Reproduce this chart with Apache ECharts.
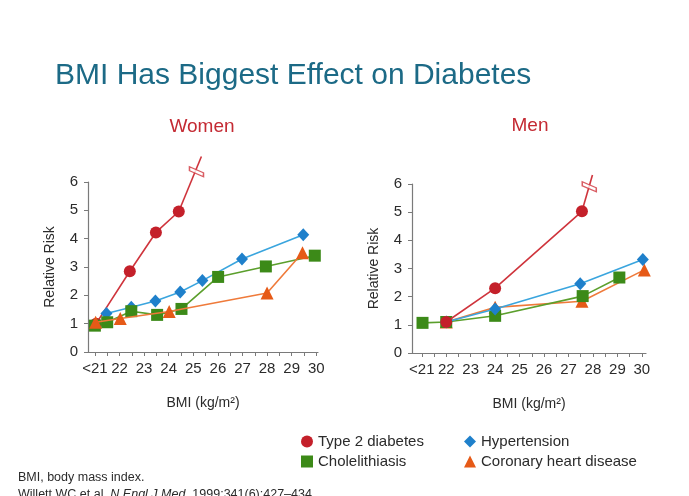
<!DOCTYPE html>
<html>
<head>
<meta charset="utf-8">
<script src="https://cdn.jsdelivr.net/npm/echarts@6/dist/echarts.min.js"></script>
<style>
  html, body { margin: 0; padding: 0; background: #ffffff; }
  #chart { width: 689px; height: 496px; }
</style>
</head>
<body>
<div id="chart"></div>
<script>
// BMI axis: ticks every half unit, labels on whole units
const bmiTicks = [21, 21.5, 22, 22.5, 23, 23.5, 24, 24.5, 25, 25.5, 26, 26.5, 27, 27.5, 28, 28.5, 29, 29.5, 30];
const bmiLabels = [21, 22, 23, 24, 25, 26, 27, 28, 29, 30];
const riskTicks = [0, 1, 2, 3, 4, 5, 6];

// Women: [BMI, relative risk]
const womenDiabetes = [[21.05, 1.0], [22.42, 2.85], [23.48, 4.22], [24.41, 4.96]];
const womenDiabetesRun = [[24.41, 4.96], [25.33, 6.9]];
const womenDiabetesBreak = [[25.13, 6.36]];
const womenHypertension = [[21.47, 1.36], [22.48, 1.58], [23.46, 1.8], [24.47, 2.12], [25.37, 2.52], [26.98, 3.28], [29.47, 4.14]];
const womenCholelithiasis = [[21.0, 0.93], [21.5, 1.05], [22.48, 1.44], [23.53, 1.31], [24.52, 1.52], [26.01, 2.65], [27.95, 3.02], [29.94, 3.4]];
const womenCHD = [[21.03, 1.05], [22.03, 1.18], [24.02, 1.43], [28.0, 2.08], [29.44, 3.5]];

// Men: [BMI, relative risk]
const menDiabetes = [[22.0, 1.1], [24.0, 2.3], [27.55, 5.03]];
const menDiabetesRun = [[27.55, 5.03], [27.98, 6.32]];
const menDiabetesBreak = [[27.85, 5.9]];
const menHypertension = [[22.0, 1.1], [24.0, 1.56], [27.48, 2.46], [30.04, 3.32]];
const menCholelithiasis = [[21.03, 1.07], [22.0, 1.1], [24.0, 1.32], [27.58, 2.02], [29.08, 2.68]];
const menCHD = [[22.0, 1.1], [24.0, 1.62], [27.55, 1.84], [30.1, 2.95]];

const names = ['Type 2 diabetes', 'Hypertension', 'Cholelithiasis', 'Coronary heart disease'];

const RED = '#c4202a', RED_LINE = '#cf343c';
const BLUE = '#1f80cb', BLUE_LINE = '#3aa5de';
const GREEN = '#3c8a18', GREEN_LINE = '#5b9f2c';
const ORANGE = '#e65a17', ORANGE_LINE = '#ef7a3a';
const FONT = '"Liberation Sans", Arial, Helvetica, sans-serif';
const AXIS = '#7a7a7a';
const TEXT = '#2b2b2b';

// double-slash scale break drawn across the diabetes line
const breakPath = 'path://M0,0 L14,6 L14,10 L0,4 Z';

function xAxisFor(gridIndex, min, max) {
  return {
    type: 'value', gridIndex, min, max,
    axisLine: { lineStyle: { color: AXIS, width: 1.2 } },
    axisTick: { customValues: bmiTicks, length: 4, lineStyle: { color: AXIS } },
    axisLabel: {
      customValues: bmiLabels, margin: 9, color: TEXT, fontSize: 15, fontFamily: FONT,
      formatter: v => (v === 21 ? '<21' : String(v))
    },
    splitLine: { show: false },
    name: 'BMI (kg/m²)', nameLocation: 'middle', nameGap: 44,
    nameTextStyle: { color: TEXT, fontSize: 14, fontFamily: FONT }
  };
}
function yAxisFor(gridIndex) {
  return {
    type: 'value', gridIndex, min: 0, max: 6, interval: 1,
    axisLine: { show: true, lineStyle: { color: AXIS, width: 1.2 } },
    axisTick: { show: true, length: 4, lineStyle: { color: AXIS } },
    axisLabel: { margin: 10, color: TEXT, fontSize: 15, fontFamily: FONT,
      customValues: riskTicks },
    splitLine: { show: false },
    name: 'Relative Risk', nameLocation: 'middle', nameGap: 31, nameRotate: 90,
    nameTextStyle: { color: TEXT, fontSize: 14, fontFamily: FONT }
  };
}

function lineSeries(name, idx, data, color, lineColor, symbol, size, z) {
  return {
    name, type: 'line', xAxisIndex: idx, yAxisIndex: idx, data,
    symbol, symbolSize: size, clip: false, z,
    lineStyle: { color: lineColor, width: 1.6 },
    itemStyle: { color },
    emphasis: { disabled: true }, animation: false
  };
}
function runSeries(name, idx, data, z) {
  return {
    name, type: 'line', xAxisIndex: idx, yAxisIndex: idx, data,
    showSymbol: false, symbol: 'none', clip: false, z,
    lineStyle: { color: RED_LINE, width: 1.6 },
    itemStyle: { color: RED }, animation: false
  };
}
function breakSeries(name, idx, data, z) {
  return {
    name, type: 'scatter', xAxisIndex: idx, yAxisIndex: idx, data,
    symbol: breakPath, symbolSize: [14, 10], clip: false, z,
    itemStyle: { color: '#ffffff', borderColor: RED_LINE, borderWidth: 1.3 },
    emphasis: { disabled: true }, animation: false
  };
}

const chart = echarts.init(document.getElementById('chart'), null, { renderer: 'canvas' });

chart.setOption({
  backgroundColor: '#ffffff',
  animation: false,
  grid: [
    { left: 88, top: 182, width: 230, height: 170 },
    { left: 412, top: 184, width: 234, height: 169 }
  ],
  xAxis: [xAxisFor(0, 20.72, 30.07), xAxisFor(1, 20.6, 30.17)],
  yAxis: [yAxisFor(0), yAxisFor(1)],
  legend: [
    {
      orient: 'vertical', left: 296, top: 429, itemWidth: 12, itemHeight: 12, itemGap: 5,
      selectedMode: false,
      textStyle: { color: TEXT, fontSize: 15, fontFamily: FONT },
      data: [{ name: names[0], icon: 'circle' }, { name: names[2], icon: 'rect' }]
    },
    {
      orient: 'vertical', left: 459, top: 429, itemWidth: 12, itemHeight: 12, itemGap: 5,
      selectedMode: false,
      textStyle: { color: TEXT, fontSize: 15, fontFamily: FONT },
      data: [{ name: names[1], icon: 'diamond' }, { name: names[3], icon: 'triangle' }]
    }
  ],
  graphic: [
    { type: 'text', left: 55, top: 61, style: { text: 'BMI Has Biggest Effect on Diabetes',
      fill: '#1c6a86', font: '30px ' + FONT } },
    { type: 'text', x: 202, y: 127, style: { text: 'Women', fill: '#c42a33', font: '19px ' + FONT,
      align: 'center', verticalAlign: 'middle' } },
    { type: 'text', x: 530, y: 126, style: { text: 'Men', fill: '#c42a33', font: '19px ' + FONT,
      align: 'center', verticalAlign: 'middle' } },
    { type: 'text', x: 18, y: 478, style: { text: 'BMI, body mass index.', fill: TEXT,
      font: '12.5px ' + FONT, verticalAlign: 'middle' } },
    { type: 'text', x: 18, y: 495, style: {
      text: '{n|Willett WC et al. }{i|N Engl J Med}{n|. 1999;341(6):427–434.}',
      verticalAlign: 'middle',
      rich: {
        n: { fill: TEXT, fontSize: 12.5, fontFamily: FONT },
        i: { fill: TEXT, fontSize: 12.5, fontFamily: FONT, fontStyle: 'italic' }
      } } }
  ],
  series: [
    // Women
    runSeries(names[0], 0, womenDiabetesRun, 2),
    breakSeries(names[0], 0, womenDiabetesBreak, 3),
    lineSeries(names[0], 0, womenDiabetes, RED, RED_LINE, 'circle', 12, 2),
    lineSeries(names[1], 0, womenHypertension, BLUE, BLUE_LINE, 'diamond', [12, 13], 3),
    lineSeries(names[2], 0, womenCholelithiasis, GREEN, GREEN_LINE, 'rect', 12, 4),
    lineSeries(names[3], 0, womenCHD, ORANGE, ORANGE_LINE, 'triangle', 13, 5),
    // Men
    lineSeries(names[3], 1, menCHD, ORANGE, ORANGE_LINE, 'triangle', 13, 2),
    lineSeries(names[2], 1, menCholelithiasis, GREEN, GREEN_LINE, 'rect', 12, 3),
    lineSeries(names[1], 1, menHypertension, BLUE, BLUE_LINE, 'diamond', [12, 13], 4),
    runSeries(names[0], 1, menDiabetesRun, 5),
    breakSeries(names[0], 1, menDiabetesBreak, 6),
    lineSeries(names[0], 1, menDiabetes, RED, RED_LINE, 'circle', 12, 5)
  ]
});
</script>
</body>
</html>
